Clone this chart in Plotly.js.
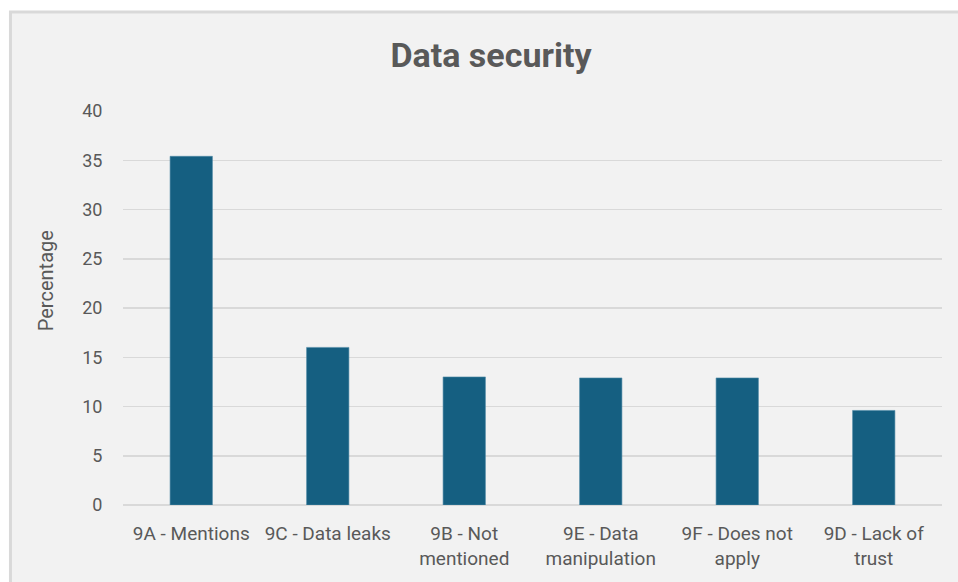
<!DOCTYPE html>
<html>
<head>
<meta charset="utf-8">
<script src="https://cdn.plot.ly/plotly-3.0.1.min.js"></script>
<style>
html,body{margin:0;padding:0;background:#ffffff;}
#chart{width:958px;height:582px;}
</style>
</head>
<body>
<div id="chart"></div>
<script>
const categories = ["9A - Mentions", "9C - Data leaks", "9B - Not<br>mentioned", "9E - Data<br>manipulation", "9F - Does not<br>apply", "9D - Lack of<br>trust"];
const percentages = [35.4, 16.0, 13.0, 12.9, 12.9, 9.6];
const yTickValues = [0, 5, 10, 15, 20, 25, 30, 35, 40];
const yAxisTitle = "Percentage";
const chartTitle = "Data security";

const textColor = "#595959";
const fontFamily = "Roboto, 'Liberation Sans', sans-serif";

const trace = {
  type: "bar",
  x: categories,
  y: percentages,
  marker: {color: "#155f81", line: {color: "#4f8aa6", width: 0.6}},
  hoverinfo: "x+y"
};

const layout = {
  width: 958,
  height: 582,
  margin: {l: 123, r: 16, t: 111, b: 76.5},
  paper_bgcolor: "#ffffff",
  plot_bgcolor: "rgba(0,0,0,0)",
  bargap: 0.69,
  showlegend: false,
  font: {family: fontFamily, color: textColor},
  title: {
    text: "<b>" + chartTitle + "</b>",
    font: {family: fontFamily, size: 34, color: textColor},
    xref: "container", x: 0.5125, xanchor: "center",
    yref: "container", y: 0.905, yanchor: "middle"
  },
  xaxis: {
    type: "category",
    showgrid: false,
    showline: false,
    zeroline: false,
    ticks: "outside",
    ticklen: 11,
    tickcolor: "rgba(0,0,0,0)",
    tickfont: {family: fontFamily, size: 19, color: textColor}
  },
  yaxis: {
    range: [0, 40],
    tickvals: yTickValues,
    showgrid: true,
    gridcolor: "#d9d9d9",
    gridwidth: 1.5,
    zeroline: true,
    zerolinecolor: "#d9d9d9",
    zerolinewidth: 1.5,
    showline: false,
    ticks: "outside",
    ticklen: 16,
    tickcolor: "rgba(0,0,0,0)",
    tickfont: {family: fontFamily, size: 18, color: textColor}
  },
  annotations: [{
    text: yAxisTitle,
    xref: "paper", yref: "paper",
    x: -0.094, y: 0.568,
    xanchor: "center", yanchor: "middle",
    textangle: -90,
    showarrow: false,
    font: {family: fontFamily, size: 20, color: textColor}
  }],
  shapes: [{
    type: "rect",
    xref: "paper", yref: "paper",
    x0: -0.1374, x1: 1.03,
    y0: -0.3, y1: 1.251,
    fillcolor: "#f2f2f2",
    line: {color: "#d9d9d9", width: 3},
    layer: "below"
  }]
};

Plotly.newPlot("chart", [trace], layout, {displayModeBar: false, staticPlot: true});
</script>
</body>
</html>
